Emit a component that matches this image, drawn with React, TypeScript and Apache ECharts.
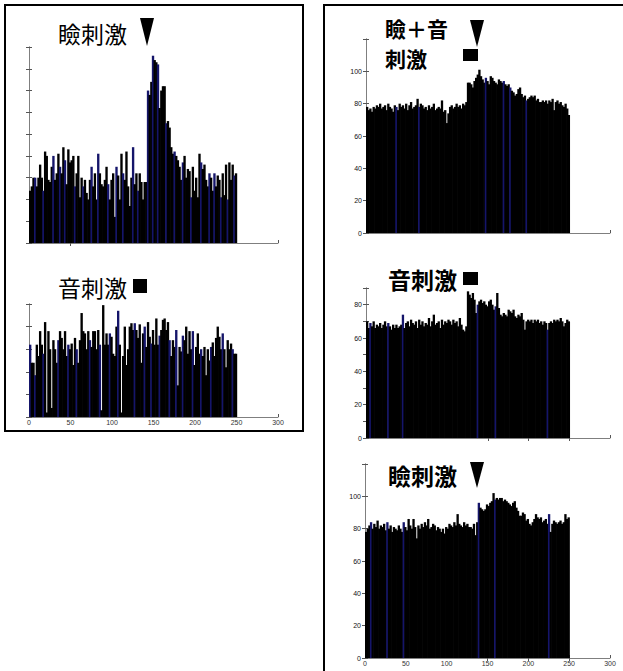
import React, { useEffect, useRef } from "react";
import * as echarts from "echarts";

// bin width (time units) of every histogram
const BIN_WIDTH = 2;

// 瞼刺激 (left, top)
const LEFT_TOP = [
  2.4, 2.6, 3.0, 3.0, 2.6, 3.0,
  3.6, 3.0, 2.4, 4.2, 4.0, 2.9,
  2.8, 3.5, 4.0, 2.9, 3.2, 4.1,
  3.5, 3.2, 4.4, 3.8, 2.7, 4.3,
  3.7, 3.8, 4.0, 2.6, 3.2, 4.0,
  2.1, 3.0, 2.6, 2.9, 2.3, 2.0,
  2.9, 3.5, 2.6, 3.2, 2.0, 4.1,
  3.2, 2.7, 2.6, 2.9, 3.5, 2.7,
  2.0, 2.9, 3.2, 1.2, 3.5, 3.1,
  2.0, 4.1, 3.2, 2.9, 4.2, 2.6,
  1.7, 3.0, 4.4, 2.7, 3.2, 2.4,
  3.2, 2.8, 2.0, 2.8, 2.8,
  7.0, 6.8, 7.4, 8.6, 8.4, 8.3, 8.2, 6.2, 7.0, 7.2, 7.2, 5.5, 5.6, 5.3, 4.4, 4.1,
  4.2, 4.0, 3.8, 3.5, 2.9, 3.7,
  4.0, 3.0, 3.4, 3.3, 2.1, 3.5,
  2.4, 3.0, 2.1, 4.1, 3.7, 3.4,
  3.6, 2.9, 2.6, 3.2, 3.0, 2.4,
  3.2, 2.6, 3.1, 2.9, 2.1, 3.2,
  2.2, 3.6, 2.0, 3.7, 2.9, 3.6, 3.1, 3.2,
];

// 音刺激 (left, bottom)
const LEFT_BOTTOM = [
  3.2, 2.4, 2.4,
  1.85, 3.2, 2.7, 3.8, 3.2, 2.8,
  4.2, 0.2, 3.8, 3.0, 0.4, 3.4,
  3.0, 2.4, 3.4, 3.8, 3.5, 3.0,
  3.8, 2.7, 3.2, 3.0, 3.25, 2.3,
  3.5, 3.0, 2.4, 3.4, 4.6, 3.8,
  3.7, 3.0, 3.8, 3.4, 3.1, 3.8,
  3.8, 3.0, 3.85, 3.2, 0.3, 4.95,
  3.2, 3.7, 3.2, 3.7, 3.55, 2.8,
  2.7, 4.0, 4.7, 3.2, 0.2, 2.7,
  4.0, 2.3, 3.0, 4.0, 4.15, 3.85,
  4.15, 3.85, 3.5, 4.1, 2.4, 3.7,
  4.0, 3.1, 4.2, 3.55, 3.25, 3.85,
  3.2, 4.36, 3.2, 3.6, 3.85, 4.3,
  4.36, 3.85, 4.2, 3.4, 2.7, 3.4,
  3.1, 3.85, 1.4, 3.1, 2.9, 3.6,
  3.4, 4.0, 2.8, 3.8, 3.0, 3.8,
  2.3, 3.1, 3.7, 2.8, 3.0, 2.7,
  3.1, 1.85, 3.0, 2.5, 3.1, 3.3,
  2.7, 3.5, 4.0, 3.55, 3.0, 3.7,
  3.0, 2.2, 3.4, 3.0, 3.25, 3.0, 2.8, 2.8,
];

// 瞼＋音刺激 (right, top)
const RIGHT_TOP = [
  78, 76, 77, 75, 78, 77, 79, 78, 80, 77,
  78, 79, 76, 80, 78, 77, 75, 79, 78, 76,
  80, 78, 79, 77, 80, 76, 79, 81, 77, 78,
  79, 83, 78, 80, 79, 77, 78, 76, 79, 77,
  78, 80, 76, 77, 78, 77, 82, 75, 76, 68,
  74, 78, 79, 77, 78, 80, 78, 79, 77, 80, 79, 81,
  93, 93, 92, 90, 94, 96, 98, 101, 97, 95,
  93, 96, 94, 92, 97, 96, 94, 93, 92, 95,
  94, 93, 94, 92, 91, 92, 90, 88, 87, 85,
  86, 89, 90, 86, 84, 85, 82, 83, 84, 85,
  84, 85, 82, 83, 81, 81, 82, 81, 82, 80,
  82, 81, 83, 76, 81, 82, 80, 81, 79, 78,
  80, 77, 73,
];

// 音刺激 (right, middle)
const RIGHT_MIDDLE = [
  70, 66, 69, 67, 70, 66, 68, 67, 69, 66,
  68, 70, 67, 69, 67, 65, 68, 66, 68, 66,
  67, 68, 74, 66, 69, 70, 67, 71, 69, 68,
  70, 66, 71, 68, 70, 67, 69, 68, 72, 67,
  70, 74, 68, 69, 70, 66, 71, 68, 70, 69,
  71, 70, 68, 71, 69, 70, 67, 72, 68, 65, 64, 67,
  88, 86, 84, 87, 83, 75, 80, 82, 83, 81,
  82, 80, 79, 82, 83, 80, 77, 79, 87, 78,
  74, 73, 75, 74, 73, 77, 76, 75, 77, 73,
  72, 74, 73, 75, 71, 65, 70, 71, 70, 71,
  69, 71, 70, 71, 69, 70, 68, 70, 69, 65,
  69, 70, 69, 71, 70, 71, 70, 72, 70, 67,
  69, 71, 70,
];

// 瞼刺激 (right, bottom)
const RIGHT_BOTTOM = [
  78, 80, 82, 84, 80, 83, 81, 85, 80, 82,
  81, 83, 79, 84, 80, 82, 78, 81, 80, 79,
  82, 80, 78, 84, 81, 79, 86, 82, 80, 86,
  81, 74, 82, 80, 83, 81, 84, 82, 86, 80,
  81, 83, 82, 79, 81, 80, 78, 80, 77, 81,
  80, 83, 82, 81, 84, 82, 89, 83, 82, 81,
  84, 82, 83, 81, 81, 80, 83, 76, 84, 96,
  93, 92, 91, 92, 95, 94, 96, 97, 102, 98,
  99, 98, 99, 99, 97, 98, 97, 96, 95, 94,
  96, 97, 93, 91, 88, 88, 90, 89, 85, 86,
  83, 82, 84, 86, 89, 87, 86, 87, 84, 85,
  86, 83, 89, 78, 83, 85, 84, 83, 84, 85,
  83, 84, 89, 86, 87,
];

// bins that show the blue face colour
const LT_BLUE = [3, 8, 14, 18, 21, 27, 32, 37, 41, 47, 52, 56, 62, 65, 71, 74, 77, 82, 87, 92, 97, 103, 108, 111, 115, 119, 123];
const LB_BLUE = [0, 3, 8, 17, 23, 28, 36, 42, 48, 53, 63, 69, 73, 78, 84, 88, 92, 98, 103, 109, 116, 122];
const RT_BLUE = [18, 32, 73, 84, 88, 98];
const RM_BLUE = [2, 13, 22, 68, 79, 111];
const RB_BLUE = [3, 13, 23, 69, 79, 112];

// titles
const TITLE_LT = "瞼刺激";
const TITLE_LB = "音刺激";
const TITLE_RT_1 = "瞼＋音";
const TITLE_RT_2 = "刺激";
const TITLE_RM = "音刺激";
const TITLE_RB = "瞼刺激";

const NAVY = "#15156a";
const AXIS_GRAY = "#7f7f7f";
const CJK = "'Noto Sans CJK JP', 'Noto Sans CJK SC', sans-serif";
const NUM_FONT = "'Liberation Sans', Arial, sans-serif";

function histData(values: number[], blue: number[]) {
  return values.map((v, i) => [i * BIN_WIDTH, (i + 1) * BIN_WIDTH, v, blue.includes(i) ? 1 : 0]);
}

const renderBar = (_params: any, api: any) => {
  const s = api.coord([api.value(0), api.value(2)]);
  const e = api.coord([api.value(1), 0]);
  return {
    type: "rect",
    // slight overlap to the right so that neighbouring bars leave no hairline seams
    shape: { x: s[0], y: s[1], width: e[0] - s[0] + 0.7, height: e[1] - s[1] },
    style: { fill: api.value(3) ? NAVY : "#000" },
  };
};

type Panel = {
  grid: { left: number; top: number; width: number; height: number };
  values: number[];
  blue: number[];
  yMax: number;
  yInterval: number;
  yLabelEvery: number | null;
  xLabels: boolean;
  topTicks: number[];
};

const PANELS: Panel[] = [
  { grid: { left: 29, top: 47, width: 249, height: 196 }, values: LEFT_TOP, blue: LT_BLUE, yMax: 9, yInterval: 1, yLabelEvery: null, xLabels: false, topTicks: [50] },
  { grid: { left: 29, top: 304, width: 249, height: 113 }, values: LEFT_BOTTOM, blue: LB_BLUE, yMax: 5, yInterval: 1, yLabelEvery: null, xLabels: true, topTicks: [] },
  { grid: { left: 366, top: 39, width: 244, height: 194 }, values: RIGHT_TOP, blue: RT_BLUE, yMax: 120, yInterval: 20, yLabelEvery: 20, xLabels: false, topTicks: [] },
  { grid: { left: 366, top: 288, width: 244, height: 150 }, values: RIGHT_MIDDLE, blue: RM_BLUE, yMax: 90, yInterval: 10, yLabelEvery: 20, xLabels: false, topTicks: [150, 200, 250] },
  { grid: { left: 365, top: 464, width: 245, height: 194 }, values: RIGHT_BOTTOM, blue: RB_BLUE, yMax: 120, yInterval: 20, yLabelEvery: 20, xLabels: true, topTicks: [150, 200, 250] },
];

function buildOption() {
  const grid: any[] = [];
  const xAxis: any[] = [];
  const yAxis: any[] = [];
  const series: any[] = [];
  const lineStyle = { color: AXIS_GRAY, width: 1 };
  const tickStyle = { color: "#555", width: 1 };

  PANELS.forEach((p, i) => {
    grid.push({ ...p.grid, containLabel: false });
    xAxis.push({
      type: "value", gridIndex: i, position: "bottom", min: 0, max: 300, interval: 50,
      axisLine: { show: true, lineStyle },
      axisTick: { show: true, inside: true, length: 3, lineStyle: tickStyle },
      axisLabel: { show: p.xLabels, fontSize: 7, color: "#333", margin: 2, fontFamily: NUM_FONT },
      splitLine: { show: false },
    });
    xAxis.push({
      type: "value", gridIndex: i, position: "top", min: 0, max: 300, interval: 50,
      axisLine: { show: false },
      axisTick: { show: p.topTicks.length > 0, inside: true, length: 3, customValues: p.topTicks, lineStyle: tickStyle },
      axisLabel: { show: false },
      splitLine: { show: false },
    });
    yAxis.push({
      type: "value", gridIndex: i, position: "left", min: 0, max: p.yMax, interval: p.yInterval,
      axisLine: { show: true, lineStyle },
      axisTick: { show: true, inside: true, length: 3, lineStyle: tickStyle },
      axisLabel: {
        show: p.yLabelEvery !== null, fontSize: 7, color: "#111", margin: 4, fontFamily: NUM_FONT,
        formatter: (v: number) =>
          p.yLabelEvery && v % p.yLabelEvery === 0 && v < p.yMax ? String(v) : "",
      },
      splitLine: { show: false },
    });
    yAxis.push({
      type: "value", gridIndex: i, position: "right", min: 0, max: p.yMax, interval: p.yInterval,
      axisLine: { show: true, lineStyle },
      axisTick: { show: true, inside: true, length: 3, lineStyle: tickStyle },
      axisLabel: { show: false },
      splitLine: { show: false },
    });
    series.push({
      type: "custom",
      xAxisIndex: 2 * i,
      yAxisIndex: 2 * i,
      renderItem: renderBar,
      encode: { x: [0, 1], y: 2 },
      data: histData(p.values, p.blue),
      silent: true,
    });
  });

  const titleStyle = (text: string, size: number, weight: string) => ({
    text, fontSize: size, fontFamily: CJK, fontWeight: weight, fill: "#000", verticalAlign: "middle", align: "left",
  });

  const graphic: any[] = [
    { type: "rect", shape: { x: 5, y: 5, width: 298, height: 426 }, style: { fill: "none", stroke: "#000", lineWidth: 2 } },
    { type: "rect", shape: { x: 324, y: 5, width: 320, height: 700 }, style: { fill: "none", stroke: "#000", lineWidth: 2 } },
    // left top
    { type: "text", x: 58, y: 33, style: titleStyle(TITLE_LT, 23, "normal") },
    { type: "polygon", shape: { points: [[140, 18], [154, 18], [147, 46]] }, style: { fill: "#000" } },
    // left bottom
    { type: "text", x: 58, y: 287, style: titleStyle(TITLE_LB, 23, "normal") },
    { type: "rect", shape: { x: 133, y: 279, width: 14, height: 14 }, style: { fill: "#000" } },
    // right top (two lines)
    { type: "text", x: 385, y: 28, style: titleStyle(TITLE_RT_1, 21, "bold") },
    { type: "text", x: 385, y: 58, style: titleStyle(TITLE_RT_2, 21, "bold") },
    { type: "polygon", shape: { points: [[470, 20], [484, 20], [477, 47]] }, style: { fill: "#000" } },
    { type: "rect", shape: { x: 463, y: 49, width: 15, height: 12 }, style: { fill: "#000" } },
    // right middle
    { type: "text", x: 388, y: 279, style: titleStyle(TITLE_RM, 23, "bold") },
    { type: "rect", shape: { x: 463, y: 272, width: 15, height: 13 }, style: { fill: "#000" } },
    // right bottom
    { type: "text", x: 388, y: 475, style: titleStyle(TITLE_RB, 23, "bold") },
    { type: "polygon", shape: { points: [[470, 462], [484, 462], [477, 488]] }, style: { fill: "#000" } },
  ];

  return {
    animation: false,
    backgroundColor: "#fff",
    grid,
    xAxis,
    yAxis,
    series,
    graphic,
  };
}

export default function App() {
  const ref = useRef<HTMLDivElement>(null);
  useEffect(() => {
    if (!ref.current) return;
    const chart = echarts.init(ref.current, undefined, { renderer: "svg" });
    chart.setOption(buildOption() as any);
    return () => chart.dispose();
  }, []);
  return (
    <div
      ref={ref}
      style={{ position: "absolute", left: 0, top: 0, width: 623, height: 671, background: "#fff" }}
    />
  );
}
